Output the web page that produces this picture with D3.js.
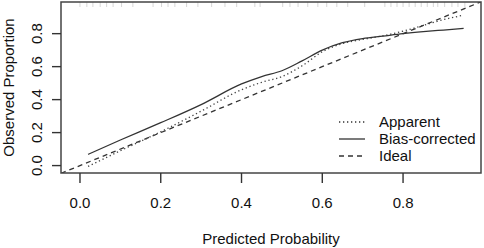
<!doctype html>
<html lang="en">
<head>
<meta charset="utf-8">
<title>Calibration plot</title>
<script src="https://cdn.jsdelivr.net/npm/d3@7"></script>
<style>
  body { margin: 0; background: #fff; }
  text { font-family: "Liberation Sans", Arial, sans-serif; fill: #111; }
  .lab { font-size: 15px; }
</style>
</head>
<body>
<div id="viz"></div>
<script>
(function(d3) {

	// Data
	var predicted = [0.02, 0.1, 0.2, 0.3, 0.4, 0.45, 0.5, 0.55, 0.6, 0.65, 0.7, 0.75, 0.8, 0.85, 0.9, 0.95];
	var apparent = [-0.005, 0.09, 0.205, 0.33, 0.46, 0.505, 0.54, 0.605, 0.69, 0.74, 0.765, 0.787, 0.815, 0.85, 0.885, 0.912];
	var biasCorrected = [0.068, 0.155, 0.26, 0.37, 0.495, 0.54, 0.575, 0.635, 0.70, 0.745, 0.77, 0.785, 0.80, 0.812, 0.822, 0.832];
	var rug = [0.0, 0.017, 0.032, 0.05, 0.066, 0.082, 0.103, 0.131, 0.181, 0.202, 0.218, 0.235, 0.264, 0.292,
		0.326, 0.359, 0.388, 0.433, 0.446, 0.502, 0.52, 0.54, 0.564, 0.589, 0.611, 0.636, 0.663, 0.705,
		0.755, 0.77, 0.785, 0.80, 0.815, 0.83, 0.845, 0.86, 0.875, 0.886, 0.903, 0.921, 0.936, 0.953];
	var ticks = [0, 0.2, 0.4, 0.6, 0.8];
	var legendLabels = ["Apparent", "Bias-corrected", "Ideal"];

	// Dimensions
	var w = 484, h = 248;
	var box = {left: 61, right: 481, top: 2, bottom: 173};
	var lim = [-0.047, 0.993];

	var svg = d3.select("#viz").append("svg")
		.attr("width", w)
		.attr("height", h);

	var x = d3.scaleLinear().domain(lim).range([box.left, box.right]);
	var y = d3.scaleLinear().domain([-0.045, 0.992]).range([box.bottom, box.top]);

	svg.append("clipPath").attr("id", "clip")
		.append("rect")
		.attr("x", box.left).attr("y", box.top)
		.attr("width", box.right - box.left).attr("height", box.bottom - box.top);

	// rug of predictions along the top
	svg.append("g").selectAll("line")
		.data(rug)
		.enter().append("line")
		.attr("x1", function(d) { return x(d); })
		.attr("x2", function(d) { return x(d); })
		.attr("y1", box.top)
		.attr("y2", box.top + 5)
		.attr("stroke", "#d6d6d6")
		.attr("stroke-width", 1);

	var line = d3.line()
		.x(function(d) { return x(d[0]); })
		.y(function(d) { return y(d[1]); })
		.curve(d3.curveMonotoneX);

	var plot = svg.append("g").attr("clip-path", "url(#clip)");

	// ideal: 45 degree line
	plot.append("path")
		.attr("d", d3.line().x(function(d) { return x(d); }).y(function(d) { return y(d); })(lim))
		.attr("fill", "none")
		.attr("stroke", "#333")
		.attr("stroke-width", 1.3)
		.attr("stroke-dasharray", "5,4");

	plot.append("path")
		.attr("d", line(d3.zip(predicted, apparent)))
		.attr("fill", "none")
		.attr("stroke", "#444")
		.attr("stroke-width", 1.3)
		.attr("stroke-dasharray", "1.3,2.7");

	plot.append("path")
		.attr("d", line(d3.zip(predicted, biasCorrected)))
		.attr("fill", "none")
		.attr("stroke", "#333")
		.attr("stroke-width", 1.3);

	// box
	svg.append("rect")
		.attr("x", box.left).attr("y", box.top)
		.attr("width", box.right - box.left).attr("height", box.bottom - box.top)
		.attr("fill", "none")
		.attr("stroke", "#444")
		.attr("stroke-width", 1.5);

	// axes
	var xAxis = svg.append("g").attr("transform", "translate(0," + box.bottom + ")");
	xAxis.selectAll("line").data(ticks).enter().append("line")
		.attr("x1", function(d) { return x(d); }).attr("x2", function(d) { return x(d); })
		.attr("y1", 0).attr("y2", 10)
		.attr("stroke", "#333").attr("stroke-width", 1.4);
	xAxis.selectAll("text").data(ticks).enter().append("text")
		.attr("class", "lab")
		.attr("x", function(d) { return x(d); })
		.attr("y", 34.5)
		.attr("text-anchor", "middle")
		.text(function(d) { return d3.format(".1f")(d); });

	var yAxis = svg.append("g").attr("transform", "translate(" + box.left + ",0)");
	yAxis.selectAll("line").data(ticks).enter().append("line")
		.attr("y1", function(d) { return y(d); }).attr("y2", function(d) { return y(d); })
		.attr("x1", 0).attr("x2", -9)
		.attr("stroke", "#333").attr("stroke-width", 1.4);
	yAxis.selectAll("text").data(ticks).enter().append("text")
		.attr("class", "lab")
		.attr("transform", function(d) { return "translate(-19.5," + y(d) + ") rotate(-90)"; })
		.attr("text-anchor", "middle")
		.text(function(d) { return d3.format(".1f")(d); });

	// titles
	svg.append("text")
		.attr("class", "lab")
		.attr("x", (box.left + box.right) / 2)
		.attr("y", 243.5)
		.attr("text-anchor", "middle")
		.text("Predicted Probability");

	svg.append("text")
		.attr("class", "lab")
		.attr("transform", "translate(13.5," + (box.top + box.bottom) / 2 + ") rotate(-90)")
		.attr("text-anchor", "middle")
		.text("Observed Proportion");

	// legend
	var dashes = ["1.3,2.7", null, "5,4"];
	var legend = svg.append("g").selectAll("g")
		.data(legendLabels)
		.enter().append("g")
		.attr("transform", function(d, i) { return "translate(339," + (122 + i * 17) + ")"; });
	legend.append("line")
		.attr("x1", 0).attr("x2", 26)
		.attr("stroke", "#333")
		.attr("stroke-width", 1.3)
		.attr("stroke-dasharray", function(d, i) { return dashes[i]; });
	legend.append("text")
		.attr("class", "lab")
		.attr("x", 40)
		.attr("y", 5)
		.text(function(d) { return d; });

})(d3);
</script>
</body>
</html>
